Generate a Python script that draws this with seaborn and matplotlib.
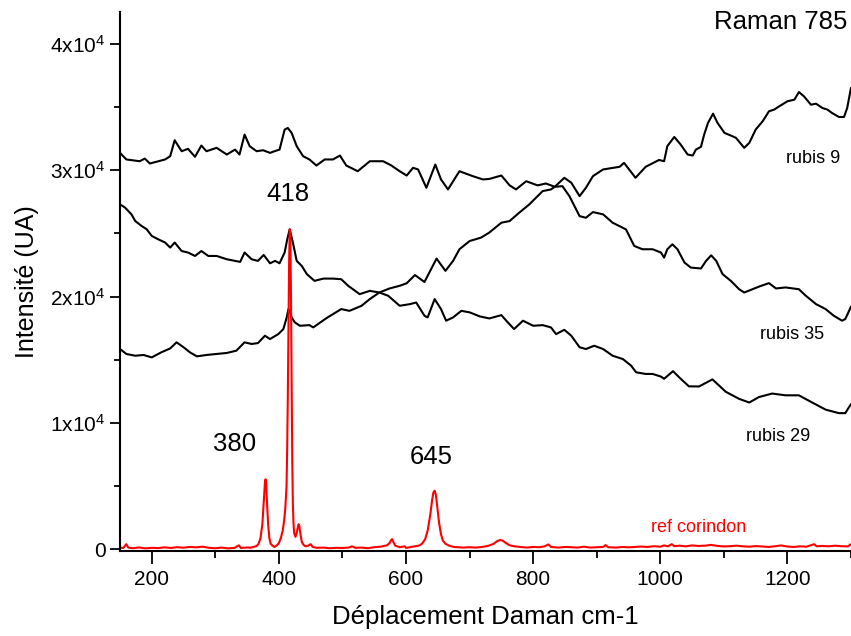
import numpy as np
import pandas as pd
import matplotlib
matplotlib.use("Agg")
import matplotlib.pyplot as plt
from matplotlib.ticker import MultipleLocator, FuncFormatter
import seaborn as sns

# ---------------- data ----------------
r9_x = [150, 160, 174, 187, 200, 215, 229, 239, 250, 260, 271, 286, 302, 318, 333, 346, 357, 367,
        378, 386, 399, 407, 412, 415, 418, 420, 425, 433, 448, 454, 475, 498, 511, 530, 543, 558,
        574, 590, 601, 614, 629, 638, 648, 662, 674, 684, 700, 718, 731, 750, 763, 778, 794, 815,
        828, 834, 849, 860, 873, 883, 894, 910, 936, 943, 961, 977, 998, 1006, 1011, 1022, 1032,
        1043, 1051, 1056, 1064, 1069, 1075, 1083, 1090, 1101, 1111, 1119, 1132, 1140, 1150, 1161,
        1171, 1179, 1187, 1200, 1211, 1218, 1226, 1237, 1245, 1255, 1263, 1270, 1281, 1289, 1294, 1300]
r9_y = [15850, 15460, 15320, 15380, 15190, 15590, 15900, 16380, 15990, 15590, 15270, 15380, 15460,
        15540, 15720, 16380, 16250, 16320, 16900, 16640, 17030, 17430, 18300, 19010, 18700, 18350,
        17960, 17690, 17740, 17560, 18300, 19010, 18870, 19270, 19800, 20320, 20640, 20850, 21050,
        21700, 21150, 22030, 23000, 22030, 22820, 23740, 24390, 24660, 25060, 25840, 25970, 26630,
        27290, 28340, 28470, 28680, 29390, 29000, 27940, 28600, 29520, 30050, 30260, 30570, 29390,
        30260, 30800, 30700, 31890, 32620, 32020, 31230, 31150, 31620, 31840, 32810, 33730, 34460,
        33730, 32940, 32730, 32550, 31760, 32150, 33200, 33860, 34650, 34780, 35040, 35440, 35570,
        36170, 35830, 35170, 35250, 34910, 34780, 34520, 34200, 34200, 34910, 36500]

r35_x = [150, 160, 181, 189, 197, 221, 229, 236, 247, 257, 268, 278, 286, 302, 318, 331, 338, 346,
         354, 365, 375, 386, 393, 401, 409, 414, 420, 428, 438, 448, 459, 472, 485, 496, 506, 524,
         543, 564, 577, 590, 601, 611, 619, 632, 646, 655, 666, 684, 705, 721, 731, 750, 763, 773,
         789, 807, 820, 834, 846, 857, 873, 883, 894, 910, 925, 946, 959, 972, 988, 1001, 1006,
         1011, 1019, 1027, 1038, 1048, 1064, 1072, 1080, 1088, 1098, 1111, 1124, 1132, 1145, 1156,
         1171, 1182, 1197, 1218, 1229, 1245, 1260, 1273, 1286, 1291, 1300]
r35_y = [31360, 30840, 30700, 30910, 30520, 30840, 31100, 32360, 31490, 31680, 31050, 31940, 31490,
         31760, 31230, 31620, 31230, 32810, 31890, 31490, 31570, 31360, 31490, 31620, 33200, 33330,
         32940, 31890, 31100, 30840, 30360, 30840, 30840, 31150, 30360, 29910, 30700, 30700, 30360,
         29910, 29570, 30180, 30050, 28600, 30440, 29260, 28470, 29910, 29520, 29260, 29300, 29570,
         28790, 28470, 29120, 28790, 28940, 28680, 28730, 27940, 26360, 26230, 26680, 26500, 25840,
         25310, 24000, 23740, 23740, 23480, 23080, 23740, 24130, 23740, 22690, 22290, 22220, 22820,
         23260, 22820, 21770, 21240, 20580, 20320, 20580, 20800, 21060, 20640, 20720, 20580, 20060,
         19400, 19010, 18480, 18090, 18220, 19200]

r29_x = [150, 158, 168, 174, 184, 192, 200, 210, 221, 229, 236, 247, 257, 268, 278, 289, 302, 318,
         331, 339, 346, 357, 367, 376, 386, 394, 401, 409, 413, 417, 422, 428, 436, 444, 456, 470,
         485, 498, 509, 527, 543, 558, 572, 590, 606, 616, 629, 634, 645, 655, 663, 674, 687, 700,
         716, 731, 750, 760, 770, 784, 800, 815, 828, 836, 849, 860, 873, 883, 896, 910, 925, 941,
         954, 962, 977, 988, 1001, 1006, 1020, 1032, 1045, 1061, 1082, 1103, 1124, 1140, 1155, 1176,
         1197, 1218, 1239, 1260, 1281, 1291, 1300]
r29_y = [27290, 27030, 26500, 25970, 25580, 25320, 24790, 24530, 24270, 23870, 24270, 23600, 23480,
         23210, 23600, 23210, 23210, 22950, 22820, 22740, 23480, 22950, 22820, 23290, 22630, 22820,
         22630, 23480, 24500, 25320, 24270, 22820, 22420, 21770, 21240, 21420, 21420, 21370, 20850,
         20190, 20450, 20320, 20060, 19270, 19400, 19530, 18480, 18350, 19800, 19010, 18090, 18350,
         18870, 18750, 18430, 18270, 18530, 17960, 17430, 18090, 17690, 17740, 17560, 17030, 17370,
         16900, 15990, 15850, 16110, 15850, 15320, 15060, 14540, 14010, 13880, 13880, 13670, 13500,
         14100, 13500, 12900, 12890, 13450, 12470, 11910, 11620, 12050, 12330, 12190, 12190, 11620,
         11060, 10780, 10780, 11500]

ref_x = [150, 155, 160, 163, 170, 180, 190, 200, 210, 220, 230, 240, 250, 260, 270, 280, 290, 300,
         310, 320, 330, 337, 340, 350, 355, 360, 365, 368, 371, 374, 376, 378, 379, 380, 381, 383,
         385, 387, 390, 393, 396, 400, 403, 406, 408, 410, 412, 413, 414, 415, 416, 417, 418, 419,
         420, 421, 422, 423, 424, 426, 428, 430, 431, 432, 434, 436, 439, 442, 446, 450, 453, 460,
         470, 480, 490, 500, 510, 515, 520, 530, 540, 550, 560, 570, 574, 576, 578, 580, 583, 590,
         598, 600, 610, 620, 625, 630, 634, 638, 641, 643, 645, 647, 649, 652, 655, 658, 662, 668,
         675, 690, 700, 710, 720, 730, 738, 743, 748, 752, 756, 762, 770, 780, 790, 800, 810, 818,
         824, 828, 840, 850, 860, 870, 880, 890, 900, 910, 914, 918, 930, 940, 950, 960, 970, 980,
         990, 1000, 1006, 1012, 1018, 1022, 1030, 1040, 1050, 1060, 1070, 1080, 1090, 1100, 1110,
         1120, 1130, 1140, 1150, 1160, 1170, 1180, 1190, 1200, 1210, 1220, 1230, 1242, 1246, 1255,
         1265, 1275, 1285, 1295, 1300]
ref_y = [150, 120, 420, 150, 100, 160, 90, 130, 110, 170, 120, 180, 140, 200, 170, 220, 130, 100,
         150, 90, 120, 330, 120, 160, 140, 200, 280, 450, 900, 2000, 3600, 5300, 5550, 5200, 4000,
         2000, 900, 450, 300, 200, 300, 500, 900, 1500, 2200, 3200, 5000, 8000, 12000, 17500, 22500,
         25300, 25000, 20000, 13000, 7000, 3500, 2000, 1300, 1000, 1300, 1800, 2000, 1900, 1200, 600,
         350, 250, 300, 420, 200, 130, 150, 100, 130, 120, 150, 250, 130, 150, 100, 180, 220, 330,
         500, 700, 820, 600, 300, 180, 250, 120, 220, 300, 450, 800, 1500, 2700, 3900, 4500, 4650,
         4300, 3400, 2100, 1200, 700, 450, 300, 200, 150, 180, 150, 200, 300, 450, 650, 750, 700,
         550, 350, 250, 200, 150, 200, 180, 250, 400, 200, 150, 200, 180, 150, 220, 150, 180, 200,
         350, 180, 150, 200, 170, 200, 230, 200, 260, 220, 320, 250, 420, 260, 300, 250, 320, 280,
         300, 360, 280, 240, 260, 300, 250, 220, 270, 240, 200, 250, 320, 230, 200, 250, 220, 420,
         250, 280, 250, 300, 260, 240, 420]

x_ticks = [200, 400, 600, 800, 1000, 1200]
y_ticks = [0, 10000, 20000, 30000, 40000]

peak_labels = ["380", "418", "645"]
peak_label_x = [331, 414, 639]
peak_label_y = [8360, 28080, 7330]

series_labels = ["rubis 9", "rubis 35", "rubis 29", "ref corindon"]
series_label_x = [1240, 1207, 1185, 1061]
series_label_y = [30910, 16960, 8910, 1735]

# ---------------- style ----------------
sns.set_style("ticks")
plt.rcParams["font.family"] = ["Liberation Sans", "DejaVu Sans"]
plt.rcParams["mathtext.default"] = "regular"
for k in ["text.color", "axes.labelcolor", "xtick.color", "ytick.color", "axes.edgecolor"]:
    plt.rcParams[k] = "black"

fig = plt.figure(figsize=(8.51, 6.36), dpi=100)
ax = fig.add_axes([120 / 851, 85 / 636, 731 / 851, 539 / 636])

for xs, ys, col in [(r9_x, r9_y, "black"), (r35_x, r35_y, "black"),
                    (r29_x, r29_y, "black"), (ref_x, ref_y, "#ff0000")]:
    df = pd.DataFrame({"x": xs, "y": ys})
    sns.lineplot(data=df, x="x", y="y", color=col, lw=1.5, ax=ax,
                 estimator=None, sort=False, legend=False)

ax.set_xlim(150, 1300)
ax.set_ylim(-120, 42500)

ax.set_xticks(x_ticks)
ax.xaxis.set_minor_locator(MultipleLocator(100))
ax.set_yticks(y_ticks)
ax.yaxis.set_minor_locator(MultipleLocator(5000))


def yfmt(v, pos):
    if abs(v) < 1:
        return "0"
    return r"$\mathregular{%dx10^{4}}$" % round(v / 1e4)


ax.yaxis.set_major_formatter(FuncFormatter(yfmt))

ax.tick_params(axis="x", which="major", length=9.5, width=1.3, labelsize=15, pad=4,
               direction="out", colors="black")
ax.tick_params(axis="x", which="minor", length=5, width=1.3, direction="out", colors="black")
ax.tick_params(axis="y", which="major", length=7.5, width=1.3, labelsize=15, pad=3,
               direction="out", colors="black")
ax.tick_params(axis="y", which="minor", length=4, width=1.3, direction="out", colors="black")

for s in ["top", "right"]:
    ax.spines[s].set_visible(False)
for s in ["left", "bottom"]:
    ax.spines[s].set_linewidth(1.5)
    ax.spines[s].set_color("black")

ax.set_xlabel("Déplacement Daman cm-1", fontsize=18.5, labelpad=12, color="black")
ax.set_ylabel("Intensité (UA)", fontsize=18, labelpad=8, color="black")

for t, xx, yy in zip(peak_labels, peak_label_x, peak_label_y):
    ax.text(xx, yy, t, fontsize=18.5, ha="center", va="center", color="black")

colors_lbl = ["black", "black", "black", "#ff0000"]
for t, xx, yy, c in zip(series_labels, series_label_x, series_label_y, colors_lbl):
    ax.text(xx, yy, t, fontsize=13, ha="center", va="center", color=c)

ax.text(1294, 41720, "Raman 785", fontsize=18.5, ha="right", va="center", color="black")

fig.savefig("out.png", dpi=100)
